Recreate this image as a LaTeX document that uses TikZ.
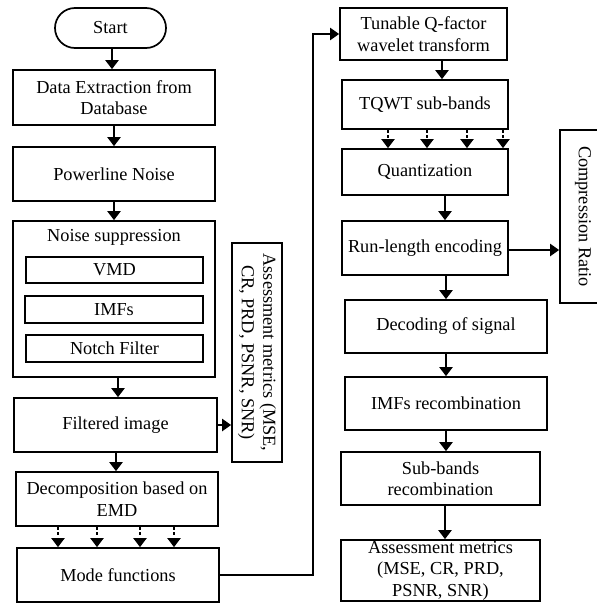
\documentclass[tikz,border=0pt]{standalone}
\usepackage{fontspec}
\setmainfont{Liberation Serif}
\usetikzlibrary{arrows.meta,positioning}

\tikzset{
  box/.style={draw, rectangle, line width=1.7pt, align=center, inner sep=0pt},
  arr/.style={line width=2.8pt, -{Triangle[width=13pt,length=9pt]}},
  darr/.style={line width=2pt, dash pattern=on 3pt off 2.5pt, -{Triangle[width=13pt,length=9pt]}},
  link/.style={line width=2.2pt, -{Triangle[width=12pt,length=9pt]}}
}

\begin{document}
\begin{tikzpicture}[x=1pt, y=-1pt, font=\fontsize{18.3}{21.5}\selectfont]
	\useasboundingbox (0,0) rectangle (597,603);
	
	% left column
	\node (start) [box, rounded corners=20pt, minimum width=111pt, minimum height=40pt] at (110.5,28) {Start};
	\node (extract) [box, minimum width=202pt, minimum height=55pt] at (114,97.5) {Data Extraction from\\Database};
	\node (powerline) [box, minimum width=202pt, minimum height=54pt] at (114,174) {Powerline Noise};
	\node (noise) [box, minimum width=202pt, minimum height=156pt] at (114,299) {};
	\node (noisettl) [below=6pt of noise.north] {Noise suppression};
	\node (vmd) [box, minimum width=177pt, minimum height=26pt] at (114.5,270) {VMD};
	\node (imfs) [box, minimum width=178pt, minimum height=27pt] at (114,309.5) {IMFs};
	\node (notch) [box, minimum width=177pt, minimum height=27pt] at (114.5,348.5) {Notch Filter};
	\node (filtered) [box, minimum width=203pt, minimum height=54pt] at (115.5,425) {Filtered image};
	\node (assess) [box, rotate=-90, minimum width=219pt, minimum height=50pt] at (257,352.5) {Assessment metrics (MSE,\\CR, PRD, PSNR, SNR)};
	\node (decomp) [box, minimum width=202pt, minimum height=54pt] at (117,499) {Decomposition based on\\EMD};
	\node (mode) [box, minimum width=202pt, minimum height=54pt] at (118,575) {Mode functions};
	
	% right column
	\node (tqfwt) [box, minimum width=167pt, minimum height=52pt] at (423.5,34) {Tunable Q-factor\\wavelet transform};
	\node (subbands) [box, minimum width=166pt, minimum height=49pt] at (425,104.5) {TQWT sub-bands};
	\node (quant) [box, minimum width=166pt, minimum height=46pt] at (425,172) {Quantization};
	\node (rle) [box, minimum width=166pt, minimum height=54pt] at (425,248) {Run-length encoding};
	\node (ratio) [box, rotate=-90, minimum width=173pt, minimum height=46pt] at (583,216.5) {Compression Ratio};
	\node (decode) [box, minimum width=202pt, minimum height=53pt] at (446,326.5) {Decoding of signal};
	\node (imfrec) [box, minimum width=202pt, minimum height=53pt] at (446,403.5) {IMFs recombination};
	\node (subrec) [box, minimum width=199pt, minimum height=53pt] at (440.5,478.5) {Sub-bands\\recombination};
	\node (metrics) [box, minimum width=199pt, minimum height=61pt] at (440.5,570.5) {Assessment metrics\\(MSE, CR, PRD,\\PSNR, SNR)};
	
	% Arrows
	\draw[arr] (start.south -| 112,0) -- (extract.north -| 112,0);
	\draw[arr] (extract.south -| 114,0) -- (powerline.north -| 114,0);
	\draw[arr] (powerline.south -| 114,0) -- (noise.north -| 114,0);
	\draw[arr] (noise.south -| 118,0) -- (filtered.north -| 118,0);
	\draw[arr] (filtered.south -| 116,0) -- (decomp.north -| 116,0);
	\draw[link] (filtered.east) -- (filtered.east -| assess.south);
	\foreach \x in {58,97,140,174}
		\draw[darr] (decomp.south -| \x,0) -- (mode.north -| \x,0);
	\draw[link] (mode.east) -- (mode.east -| 313,0) |- (tqfwt.west);
	
	\draw[arr] (tqfwt.south -| 442,0) -- (subbands.north -| 442,0);
	\foreach \x in {388,427,467,503}
		\draw[darr] (subbands.south -| \x,0) -- (quant.north -| \x,0);
	\draw[arr] (quant.south -| 445,0) -- (rle.north -| 445,0);
	\draw[link] (rle.east |- 0,250) -- (ratio.south |- 0,250);
	\draw[arr] (rle.south -| 446,0) -- (decode.north -| 446,0);
	\draw[arr] (decode.south -| 446,0) -- (imfrec.north -| 446,0);
	\draw[arr] (imfrec.south -| 446,0) -- (subrec.north -| 446,0);
	\draw[arr] (subrec.south -| 445,0) -- (metrics.north -| 445,0);
\end{tikzpicture}
\end{document}
